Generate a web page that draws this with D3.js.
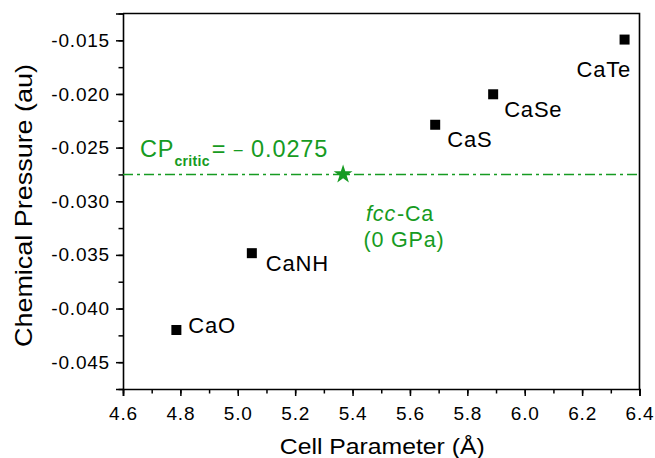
<!DOCTYPE html>
<html><head><meta charset="utf-8">
<script src="https://cdn.jsdelivr.net/npm/d3@7"></script>
<style>
body{margin:0;background:#fff;}
text{font-family:"Liberation Sans",Arial,sans-serif;}
</style></head><body>
<svg id="chart" width="655" height="458"></svg>
<script>
// ---- data ----
const compounds = ["CaO","CaNH","CaS","CaSe","CaTe"];
const cellParam = [4.786, 5.049, 5.688, 5.890, 6.348];
const chemPressure = [-0.0420, -0.03484, -0.02287, -0.02003, -0.01493];
const fccCa = {name:"fcc-Ca", x:5.367, y:-0.0275};
const cpCritic = -0.0275;
const xTicks = [4.6,4.8,5.0,5.2,5.4,5.6,5.8,6.0,6.2,6.4];
const yTicks = [-0.045,-0.040,-0.035,-0.030,-0.025,-0.020,-0.015];

// ---- layout ----
const W=655,H=458, m={l:123,t:13.5,r:15.5,b:69};
const green="#169b22";
const svg=d3.select("#chart");
const x=d3.scaleLinear().domain([4.6,6.4]).range([m.l,W-m.r]);
const y=d3.scaleLinear().domain([-0.0475,-0.0125]).range([H-m.b,m.t]);

// label offsets (px) relative to marker
const labelOff={CaO:[12,3],CaNH:[14,18],CaS:[12,22],CaSe:[11,23],CaTe:[-48,37]};

// frame top/right
svg.append("path").attr("d",`M${x(4.6)},${y(-0.0125)}H${x(6.4)}V${y(-0.0475)}`)
  .attr("fill","none").attr("stroke","#000").attr("stroke-width",1.6);

// minor ticks
const xMinor=d3.range(46,65).map(d=>d/10);
const yMinor=d3.range(-0.0475,-0.0124,0.0025);
const fmtY=d=>d3.format(".3f")(d).replace("\u2212","-");

const gx=svg.append("g").attr("transform",`translate(0,${H-m.b})`)
  .call(d3.axisBottom(x).tickValues(xMinor).tickSize(4.5).tickFormat(""));
gx.select(".domain").remove();
const gx2=svg.append("g").attr("transform",`translate(0,${H-m.b})`)
  .call(d3.axisBottom(x).tickValues(xTicks).tickSize(7).tickPadding(8).tickFormat(d3.format(".1f")));
const gy=svg.append("g").attr("transform",`translate(${m.l},0)`)
  .call(d3.axisLeft(y).tickValues(yMinor).tickSize(4.5).tickFormat(""));
gy.select(".domain").remove();
const gy2=svg.append("g").attr("transform",`translate(${m.l},0)`)
  .call(d3.axisLeft(y).tickValues(yTicks).tickSize(7).tickPadding(6).tickFormat(fmtY));
svg.selectAll(".tick line").attr("stroke","#000").attr("stroke-width",1.5);
svg.selectAll(".domain").attr("stroke","#000").attr("stroke-width",1.6);
svg.selectAll(".tick text").attr("font-size",19).attr("fill","#000")
  .style("font-family",'"Liberation Sans",Arial,sans-serif').style("letter-spacing","0.8px");
gx2.selectAll(".tick text").attr("dy","0.85em");

// axis titles
svg.append("text").attr("x",(x(4.6)+x(6.4))/2+1).attr("y",454).attr("text-anchor","middle")
  .attr("font-size",21.5).attr("textLength",205).attr("lengthAdjust","spacingAndGlyphs")
  .text("Cell Parameter (Å)");
svg.append("text").attr("transform","translate(32,205.5) rotate(-90)").attr("text-anchor","middle")
  .attr("font-size",24).attr("textLength",283).attr("lengthAdjust","spacingAndGlyphs")
  .text("Chemical Pressure (au)");

// critical line
svg.append("line").attr("x1",x(4.6)).attr("x2",x(6.4)).attr("y1",y(cpCritic)).attr("y2",y(cpCritic))
  .attr("stroke",green).attr("stroke-width",1.6).attr("stroke-dasharray","10,4,3,4");

// star
svg.append("path").attr("d",d3.symbol(d3.symbolStar,110)())
  .attr("transform",`translate(${x(fccCa.x)},${y(fccCa.y)})`).attr("fill",green);

// squares
const pts=compounds.map((c,i)=>({c,x:cellParam[i],y:chemPressure[i]}));
svg.selectAll("rect.pt").data(pts).join("rect").attr("class","pt")
  .attr("x",d=>x(d.x)-5).attr("y",d=>y(d.y)-5).attr("width",10).attr("height",10).attr("fill","#000");
svg.selectAll("text.lbl").data(pts).join("text").attr("class","lbl")
  .attr("x",d=>x(d.x)+labelOff[d.c][0]).attr("y",d=>y(d.y)+labelOff[d.c][1])
  .attr("font-size",22).style("letter-spacing","0.8px").attr("fill","#000").text(d=>d.c);

// green annotations
const cp=svg.append("text").attr("x",140).attr("y",157).attr("fill",green).attr("font-size",23.5).style("letter-spacing","0.9px");
cp.append("tspan").text("CP");
cp.append("tspan").attr("font-size",14).attr("font-weight","bold").attr("dy",9).style("letter-spacing","0.3px").text("critic");
cp.append("tspan").attr("dy",-9).attr("dx",2).text("= ");
cp.append("tspan").attr("font-size",16).attr("dy",-2).text("\u2013");
cp.append("tspan").attr("dy",2).text(" 0.0275");

const fc=svg.append("text").attr("x",x(fccCa.x)+23).attr("y",y(fccCa.y)+47).attr("fill",green).attr("font-size",21.5).style("letter-spacing","0.8px");
fc.append("tspan").attr("font-style","italic").text("fcc");
fc.append("tspan").attr("dx",1).text("-Ca");
svg.append("text").attr("x",x(fccCa.x)+20.5).attr("y",y(fccCa.y)+72.5).attr("fill",green).attr("font-size",21.5).style("letter-spacing","0.8px").text("(0 GPa)");
</script></body></html>
